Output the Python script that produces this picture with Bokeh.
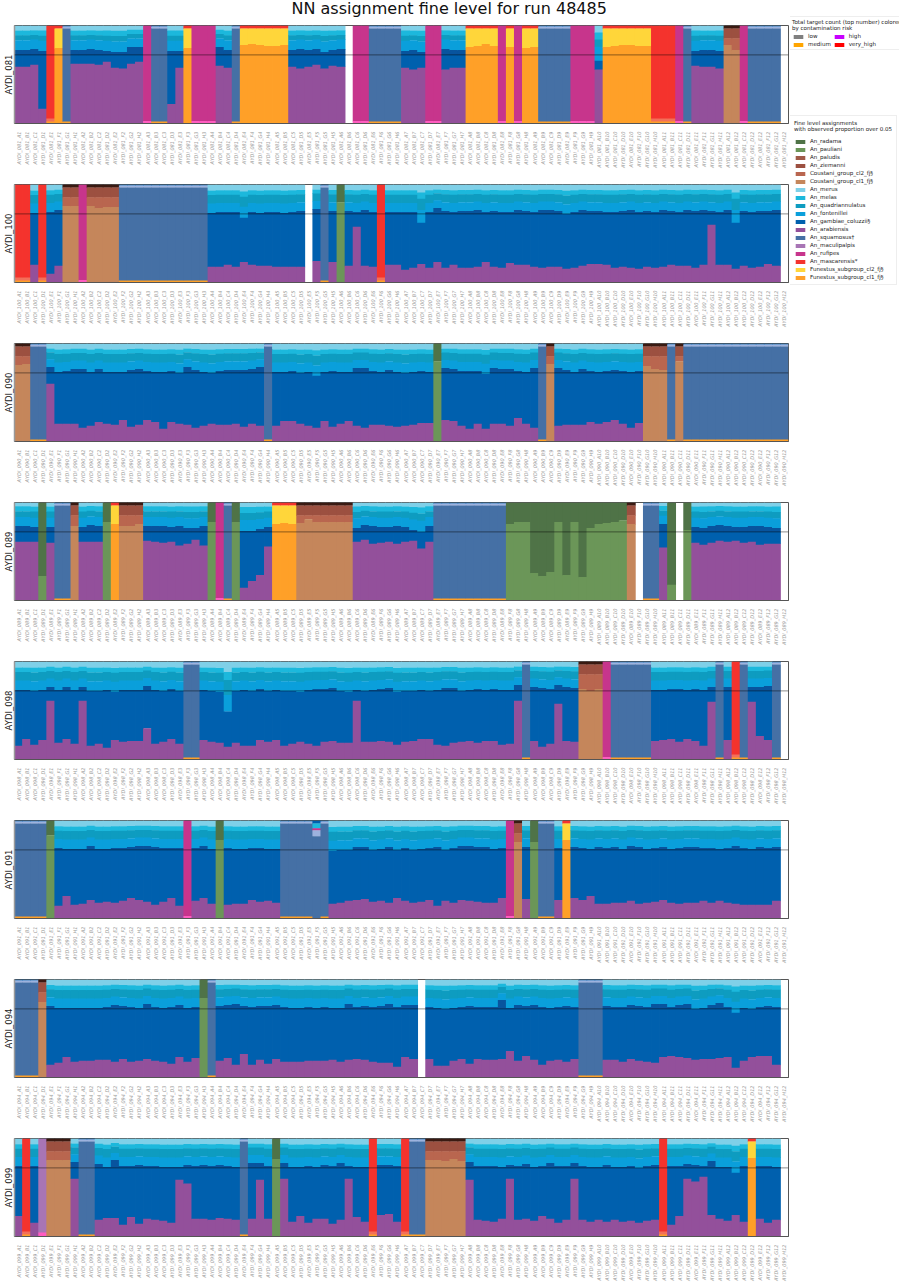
from bokeh.plotting import figure
from bokeh.models import (ColumnDataSource, FactorRange, Range1d, LabelSet, Span, Legend,
                          LegendItem, FixedTicker)
from bokeh.layouts import row, column
from bokeh.embed import file_html
from bokeh.resources import INLINE
from bokeh.core.properties import field, value
from math import pi

title_text = "NN assignment fine level for run 48485"
plate_rows = list("ABCDEFGH")
plate_cols = list(range(1, 13))

species_colors = {
    "An_radama": "#4F7347", "An_pauliani": "#6B9658", "An_paludis": "#A05A48", "An_ziemanni": "#9C5040",
    "Coustani_group_cl2_fj§": "#B9664F", "Coustani_group_cl1_fj§": "#C5865B", "An_merus": "#7FD0E8",
    "An_melas": "#1CB8DC", "An_quadriannulatus": "#0E9CC0", "An_fontenillei": "#0A9FDB",
    "An_gambiae_coluzzii§": "#0060AE", "An_arabiensis": "#93509B", "An_squamosus†": "#4570A5",
    "An_maculipalpis": "#A875B5", "An_rufipes": "#C7358C", "An_mascarensis*": "#F4332D",
    "Funestus_subgroup_cl2_fj§": "#FFD63A", "Funestus_subgroup_cl1_fj§": "#FFA028",
}
minor_colors = {"pink": "#FF5CC0", "pale": "#9DB2DE", "deep": "#3A1A12", "salmon": "#F2705A", "gdark": "#08549E"}
risk_names = ["low", "medium", "high", "very_high"]
risk_colors = ["#808080", "#FFA500", "#C800FF", "#FF0000"]

panel_ids = ["081", "100", "090", "089", "098", "091", "094", "099"]

# column codes: N normal gambiae-complex profile, F Funestus, C Coustani, P pauliani/radama,
# S squamosus, M rufipes, R mascarensis, L maculipalpis, T mixed, W empty
codes = {
 "081": "NNNN R F S NNNNNNNNN M SS NN F MMM NN S FFFFFF NNNNNNN W MM SSSS NNN MM NNN FFFF M F M FF SSSS MMM N FFFFFF RRR M S NNNN CC M SSSS W",
 "100": "RR N R NN CC M CCCC SSSSSSSSSSS NNNNNNNNNNNN W N S N P NNNN R NNNNNNNNNNNNNNNNNNNNNNNNNNNNNNNNNNNNNNNNNNNNNNNNN W",
 "090": "CC SS NNNNNNNNNNNNNNNNNNNNNNNNNNN S NNNNNNNNNNNNNNNNNNNN P NNNNNNNNNNNN S C NNNNNNNNNNN CCC S C SSSSSSSSSSSSS",
 "089": "NNN P N SS C NNN P F CCC NNNNNNNN P M S P NNNN FFF CCCCCCC NNNNNNNNNN SSSSSSSSS PPPPPPPPPPPPPPP C W SS N P W P NNNNNNNNNNN W",
 "098": "NNNNNNNNNNNNNNNNNNNNN SS NNNNNNNNNNNNNNNNNNNNNNNNNNNNNNNNNNNNNNNN S NNNNNN CCC M SSSSS NNNNNNNN S N R S NNN S W",
 "091": "SSSS P NNNNNNNNNNNNNNNN M NNN P NNNNNNN SSSSTS NNNNNNNNNNNNNNNNNNNNNN M C N P SS N F NNNNNNNNNNNNNNNNNNNNNNNNNN W",
 "094": "SSS C NNNNNNNNNNNNNNNNNNN P S NNNNNNNNNNNNNNNNNNNNNNNNN W NNNNNNNNNNNNNNNNNNN SSS NNNNNNNNNNNNNNNNNNNNNN W",
 "099": "N R N L CCC N SS NNNNNNNNNNNNNNNNNN S NNN P NNNNNNNNNNN R NNN R SS CCCCC NNNNNNNNNNNNNNNNNNNNNNNN R NNNNNNNNNN F NNN W",
}

# top of arabiensis (%), for N columns
arab = {
 "081": [58,58,60,15, 61,61,61,60,63,57,56,61,63, 20,57, 59,57, 58,56,58,60,56,59,58, 57,55,57, 55,57,57, 55, 59,58,58,56],
 "100": [18, 9,17, 16,16,18,16,21,18,17,17,16,16,16,16, 22, 21, 17,57,17,16,
         18,18,13,15,19,15,21,15,18,15,15,16,21,16,15,20,18,18,16,15,16,16,14,15,17,19,19,18,15,16,15,14,16,15,16,18,17,17,15,18, 59, 18,18,14,17,15,16,19,17],
 "090": [59, 18,18,18,14,16,20,18,17,22,15,17,22,20,13,20,18,17,14,16,18,17,17,18,15,18,16,
         16,21,21,18,16,14,21,15,18,21,16,14,17,17,16,15,16,17,19,19,
         22,21,16,13,18,13,18,18,16,24,18,14, 16,17,17,17,20,18,20,22,18,14,19],
 "089": [60,60,60, 59, 60,60,60, 61,60,59,60,56,58,62,56, 13,20,26,55, 60,62,58,59,60,58,60,61,53,60, 54, 59,57,59,61,60,61,59,60,57,58,58],
 "098": [14,21,15,20,60,17,21,16,60,14,16,12,20,18,19,19,32,16,18,21,16,
         20,18,17,13,17,14,14,20,18,20,14,16,18,16,14,18,19,17,17, 60, 18,18,19,18,15,18,19,21,21,15,14,17,18,19,17,19,19,15,16,60,
         19,13,16,57,19,18, 19,20,21,18,21,19,14,59, 20, 59,24,20],
 "091": [13,23,14,15,19,16,17,16,18,21,19,17,14,17,21,13, 18,21,15, 14,15,15,19,17,18,16,
         15,16,18,19,20,17,18,16,21,18,16,17,19,13,18,16,19,18,17,16,16,21, 20, 19,
         21,19,23,15,15,16,16,18,15,16,17,19,16,15,16,16,18,16,18,16,15,14,14,14,14,18],
 "094": [13,15,21,16,17,17,18,18,16,19,16,17,19,17,16,14,21,16,20,
         17,20,13,24,13,18,14,19,16,16,16,17,17,17,18,16,18,19,18,16,15,15,11,21,19,
         19,12,12,17,19,14,19,18,18,19,27,17,22,18,13,17,18,16,19,
         18,18,16,19,17,16,15,21,22,21,20,18,19,19,20,21,10,17,21,22,22,13],
 "099": [21, 14, 59, 17,19,19,12,20,13,18,17,16,14,58,54,18,18,17,19,18,17, 18,58,18,
         59,15,21,14,18,18,13,17,59,20,15, 22,23,15,
         58,17,16,15,18,59,17,18,16,21,18,14,17,59,17,15,17,15,17,15,16,14,16,17,
         12,21,59,56,61,22,18,16,22,15, 18,14,17],
}

# top of gambiae/coluzzii (%), for N columns
gamb = {
 "081": [75,75,76,74, 75,75,76,75,74,73,73,78,78, 74,74, 78,75, 75,76,75,76,73,75,76, 74,75,73, 76,75,75, 64, 74,75,75,74],
 "100": [71, 72,74, 71,72,72,72,66,72,71,72,72,71,72,73, 75, 73, 73,72,74,72,
         72,72,72,72,61,72,76,73,72,73,73,74,72,73,72,72,74,73,72,74,74,73,70,72,74,73,73,72,72,73,74,72,73,72,74,73,72,74,73,74, 73, 72,74,61,73,72,73,73,74],
 "090": [76, 71,72,74,74,71,74,71,71,71,73,74,72,71,71,72,70,76,73,71,70,72,73,73,73,74,76,
         71,71,72,70,71,67,71,72,71,71,75,75,72,71,73,71,70,71,72,71,
         75,74,72,72,72,69,75,74,74,72,71,75, 75,73,71,74,72,71,72,73,72,71,72],
 "089": [76,76,75, 75, 75,77,76, 76,76,76,75,76,74,74,76, 71,71,73,75, 74,77,76,75,75,76,75,72,70,76, 78, 75,74,76,77,76,75,75,76,76,75,74],
 "098": [71,71,70,71,74,71,74,71,74,70,70,71,69,71,71,71,75,71,70,72,70,
         71,70,69,49,70,71,70,72,70,71,70,70,69,71,72,72,73,70,69, 71, 70,71,72,73,69,70,70,71,70,71,73,73,70,71,72,71,72,71,71,76,
         74,73,72,76,74,73, 71,71,72,72,71,72,71,74, 74, 74,74,75],
 "091": [72,71,71,71,74,71,71,72,72,73,74,74,73,72,72,72, 72,74,71, 72,71,71,72,72,71,71,
         69,70,70,73,73,70,71,73,70,72,70,71,72,73,70,72,74,74,73,73,71,72, 73, 72,
         73,72,71,73,72,73,71,74,73,71,72,73,71,72,73,73,72,72,71,72,74,72,71,73,72,73],
 "094": [73,71,71,71,71,71,71,72,74,73,72,71,75,72,71,72,74,71,72,
         73,74,75,73,72,73,73,74,72,71,71,72,71,72,71,71,75,72,73,72,73,75,72,74,74,
         72,71,70,71,72,73,72,72,72,79,71,74,73,74,72,71,72,73,72,
         73,72,72,74,73,72,75,75,72,74,75,70,71,74,76,72,66,71,70,72,73,72],
 "099": [72, 72, 76, 74,71,78,72,72,73,72,72,71,71,71,73,72,73,72,73,72,71, 75,75,72,
         75,71,71,72,71,73,72,75,72,71,71, 73,73,72,
         76,72,72,72,71,73,72,74,71,72,75,72,72,75,72,71,71,73,71,71,72,70,72,73,
         72,72,74,73,72,77,71,71,65,72, 72,72,71],
}

# top of the main layer (%), for F, C and P columns
main = {
 "081": [77,77, 80,81,80,79,79,80, 78,79,81,79, 78, 77,78, 78,79,80,80,79,79, 80,75],
 "100": [78,78, 78,76,77,77, 82],
 "090": [78,79, 82, 79, 77,74,73, 82],
 "089": [25, 76, 80, 78, 76,76,78, 80, 80, 78,79,78, 79,83,80,80,80,80,80,
         78,80,80,28,25,29,80,26,80,24,74,78,79,80,82, 78, 16, 72],
 "098": [72,70,72],
 "091": [85, 80, 78, 78, 80],
 "094": [77, 81],
 "099": [78,78,78, 79, 78,78,77,79,77, 80],
}

# share of the part above gambiae taken by fontenillei, quadriannulatus, melas, merus
upper_share = {
 "081": [.40,.20,.20,.20], "100": [.33,.30,.16,.21], "090": [.33,.30,.16,.21], "089": [.38,.25,.21,.16],
 "098": [.33,.30,.16,.21], "091": [.33,.30,.16,.21], "094": [.33,.30,.16,.21], "099": [.33,.30,.16,.21],
}

counts = {
 "081": [59,59,59,59,49,59,49,58,58,58,59,59,58,57,59,60,58,51,50,59,59,59,60,57,58,58,59,53,60,58,59,58,60,58,59,59,
         59,60,59,59,60,7,56,57,54,51,50,59,58,59,37,57,60,57,58,57,61,60,59,34,55,59,36,59,52,54,57,58,57,59,59,60,59,
         59,60,59,59,57,58,53,54,52,58,52,59,59,57,58,49,41,56,52,50,50,52,0],
 "100": [48,50,53,49,55,58,41,41,56,48,44,42,40,52,49,56,56,54,49,49,51,50,53,49,59,60,59,52,57,58,58,56,59,60,59,58,
         5,59,47,60,47,60,58,60,60,49,58,58,58,59,18,59,60,58,59,54,59,60,59,37,59,59,59,58,59,56,59,59,52,55,57,59,60,
         58,57,59,61,46,58,60,59,59,59,60,56,58,57,60,58,17,60,57,54,57,57,0],
 "090": [45,47,52,49,58,52,55,55,55,56,58,58,57,59,59,58,58,57,54,57,61,59,58,59,61,59,58,51,60,59,58,52,
         58,60,59,60,58,56,59,59,57,59,58,59,59,58,60,58,60,59,30,56,46,
         49,58,60,56,57,59,58,59,57,59,60,59,51,46,58,59,60,57,60,59,58,58,59,59,58,47,48,48,50,39,
         44,47,46,49,51,51,17,48,50,53,55,47,38],
 "089": [58,59,58,43,56,50,41,42,57,56,55,47,38,46,41,41,58,59,59,57,59,57,58,56,47,57,50,46,57,58,59,59,38,57,59,40,35,43,43,45,50,46,
         59,58,58,59,59,59,59,45,57,48,48,53,53,51,50,50,47,51,49,
         43,44,46,45,45,41,45,37,45,27,46,44,36,42,43,43,4,49,46,56,48,9,11,59,53,58,59,58,46,58,43,58,59,57,0],
 "098": [45,57,56,57,58,58,51,53,55,54,56,58,37,59,58,59,59,60,58,56,47,50,51,59,59,58,21,57,60,58,
         59,58,60,55,55,56,57,58,58,57,58,59,58,59,59,58,60,59,57,47,58,59,59,57,56,58,60,59,60,59,
         59,60,60,52,59,58,61,59,61,58,45,47,46,55,52,51,53,50,47,58,60,59,56,59,60,58,59,51,55,26,53,59,57,58,51,0],
 "091": [47,51,43,47,35, 59,49,58,59,59,59,58,59,56,57,57,59,58,58,60,59, 54, 59,59,60, 50, 59,38,58,59,60,48,52,
         52,42,46,49,19,51, 56, 59,59,59,59,54,50,59,54,59,56,39,59,59,59,59,59,57,27,58,59,59,
         36,47,59,38,53,53,59,54, 58,59,60,60,60,55,55,58,59,55,58,59,58,59,57,58,55,58,59,58,49,44,60,59,59,61, 0],
 "094": [55,54,48,42, 54,57,57,60,59,59,59,57,59,59,59,56,59,60,59,57,60,57,59, 47, 51,
         59,56,58,57,58,60,56,60,58,60,57,59,61,50,59,56,60,47,58,60,60,59,60,59,60, 7,
         59,59,60,59,55,60,53,59,59,29,59,58,59,56,56,61,59,59,59, 52,46,47,
         55,57,60,56,59,56,59,60,56,58,60,58,57,58,59,57,47,62,57,59,48,46, 0],
 "099": [56,47,56,52,43,46,37,39,55,51, 55,57,49,59,57,55,59,60,57,57,59,57,59,59,56,60,59,58, 51,39,59,61,49,
         59,59,41,59,57,59,58,55,51,56,56, 52, 56,49,57, 53, 36,43, 46,46,46,49,46,
         59,59,61,59,58,61,57,60,59,58,59,58,58,59,55,60,59,54,60,58,56,57,59,58, 53,
         55,58,59,59,60,60,59,59,34,59,56,56,60,57, 0],
}

# wells whose count is labelled as medium contamination risk
medium_wells = {
 "081": [29,30,50,74,88,89,95], "100": [9,10,11,12,34,36,50,89,95], "090": [1,50,66,79,80,89,95],
 "089": [12,14,15,36,37,38,40,41,58,76,77,82,83,95], "098": [12,26,70,71,72,79,89,95],
 "091": [27,37,39,50,57,58,84,91,95], "094": [3,36,50,56,75,95], "099": [4,5,24,25,29,51,53,55,89,95],
}

legend1_title = "Total target count (top number) colored\nby contamination risk"
legend2_title = "Fine level assignments\nwith observed proportion over 0.05"

SP = list(species_colors)
radama, pauliani, paludis, ziemanni, c_cl2, c_cl1, merus, melas, quadri, fonten, gambiae, arabi, squam, macul, rufip, masc, f_cl2, f_cl1 = SP

FONT = "DejaVu Sans"

problems = []
for pid in panel_ids:
    seq = codes[pid].replace(" ", "")
    got = (len(seq), len(counts[pid]), sum(c == "N" for c in seq), len(arab[pid]), len(gamb[pid]),
           sum(c in "FCP" for c in seq), len(main[pid]))
    if got[0] != 96 or got[1] != 96 or got[2] != got[3] or got[2] != got[4] or got[5] != got[6]:
        problems.append((pid, got))
assert not problems, problems


def column_layers(code, a, b, m, share):
    if code == "N":
        rest = 100 - b
        t1 = b + rest * share[0]
        t2 = t1 + rest * share[1]
        t3 = t2 + rest * share[2]
        low = [(arabi, a), (gambiae, min(b, 70))]
        if b > 70:
            low.append(("gdark", b))
        return low + [(fonten, t1), (quadri, t2), (melas, t3), (merus, 100)]
    if code == "F":
        return [(f_cl1, m), (f_cl2, 97), (masc, 100)]
    if code == "C":
        return [(c_cl1, m), (c_cl2, 87), (ziemanni, 97), ("deep", 100)]
    if code == "P":
        return [(pauliani, m), (radama, 100)]
    if code == "S":
        return [(f_cl1, 2), (squam, 97), ("pale", 99), (gambiae, 100)]
    if code == "M":
        return [("pink", 2.5), (rufip, 100)]
    if code == "R":
        return [(f_cl1, 2), ("salmon", 5), (masc, 100)]
    if code == "L":
        return [("pink", 4), (macul, 100)]
    if code == "T":
        return [(squam, 84), ("pale", 90), (rufip, 92), (melas, 97), (gambiae, 100)]
    return []


def panel(pid, top_border, first):
    wells = [f"AYDI_{pid}_{r}{c}" for c in plate_cols for r in plate_rows]
    code_seq = codes[pid].replace(" ", "")
    ita, itb, itm = iter(arab[pid]), iter(gamb[pid]), iter(main[pid])
    xs, bottoms, tops, colors = [], [], [], []
    for well, code in zip(wells, code_seq):
        a = next(ita) if code == "N" else 0
        b = next(itb) if code == "N" else 0
        m = next(itm) if code in "FCP" else 0
        layers = column_layers(code, a, b, m, upper_share[pid])
        lower = [0] + [t for _, t in layers[:-1]]
        # painted from the top layer down; each layer reaches just under the next to hide seams
        for (name, top), low in reversed(list(zip(layers, lower))):
            xs.append(well)
            bottoms.append(max(low - 0.4, 0) / 100)
            tops.append(top / 100)
            colors.append(species_colors.get(name, minor_colors.get(name)))
    p = figure(x_range=FactorRange(factors=wells, range_padding=0), y_range=Range1d(0, 1),
               frame_width=774, frame_height=98, width=790, height=top_border + 98 + 48,
               output_backend="svg", toolbar_location=None,
               min_border_left=14, min_border_right=2, min_border_top=top_border, min_border_bottom=48)
    p.vbar(x=xs, bottom=bottoms, top=tops, width=1.1, fill_color=colors, line_color=None)
    p.grid.visible = False
    p.outline_line_color = "#555555"
    p.outline_line_width = 1
    p.background_fill_color = "white"

    ax = p.xaxis[0]
    ax.major_label_orientation = pi / 2
    ax.major_label_text_font = FONT
    ax.major_label_text_font_size = "5px"
    ax.major_label_text_font_style = "italic"
    ax.major_label_text_color = "#999999"
    ax.major_label_standoff = 2
    ax.major_tick_line_color = None
    ax.minor_tick_line_color = None
    ax.axis_line_color = "#555555"

    ay = p.yaxis[0]
    ay.ticker = FixedTicker(ticks=[])
    ay.axis_label = f"AYDI_{pid}"
    ay.axis_label_text_font_size = "8.5px"
    ay.axis_label_text_font_style = "normal"
    ay.axis_label_text_font = FONT
    ay.axis_label_text_color = "#222222"
    ay.axis_label_standoff = 1
    ay.axis_line_color = "#999999"
    ay.axis_line_width = 1.5

    p.add_layout(Span(location=0.7, dimension="width", line_color="black", line_alpha=0.45, line_width=1))

    src = ColumnDataSource(dict(
        x=wells, y=[1.0] * 96, t=[str(v) for v in counts[pid]],
        c=[risk_colors[1] if i in medium_wells[pid] else "#AAAAAA" for i in range(96)]))
    p.add_layout(LabelSet(x="x", y="y", text="t", source=src, angle=pi / 2, y_offset=2,
                          text_font=value(FONT), text_font_size="5px", text_color=field("c"), text_align="left",
                          text_baseline="middle"))
    if first:
        p.title.text = title_text
        p.title.align = "left"
        p.title.offset = 277
        p.title.standoff = 15
        p.title.text_line_height = 1.0
        p.title.text_font = FONT
        p.title.text_font_size = "16px"
        p.title.text_font_style = "normal"
        p.title.text_color = "#111111"
        p.margin = (-11, 0, 0, 0)
    return p


def legend_fig():
    p = figure(width=109, height=290, x_range=Range1d(0, 1), y_range=Range1d(0, 1),
               output_backend="svg", toolbar_location=None, min_border=0,
               min_border_left=0, min_border_right=0, min_border_top=0, min_border_bottom=0,
               outline_line_color=None)
    p.axis.visible = False
    p.grid.visible = False
    items1 = [LegendItem(label=n, renderers=[p.vbar(x=[float("nan")], top=[float("nan")], width=1, fill_color=c, line_color=None)])
              for n, c in zip(risk_names, risk_colors)]
    items2 = [LegendItem(label=n, renderers=[p.vbar(x=[float("nan")], top=[float("nan")], width=1, fill_color=c, line_color=None)])
              for n, c in species_colors.items()]
    for items, title, loc, ncols, pad, stand in ((items1, legend1_title, (-1, 240), 2, 2, 2),
                                                 (items2, legend2_title, (-1, 5), 1, 4, 6)):
        lg = Legend(items=items, title=title, location=loc, ncols=ncols,
                    label_text_font=FONT, title_text_font=FONT,
                    label_text_font_size="5.55px", title_text_font_size="5.55px", title_text_font_style="normal",
                    glyph_width=12, glyph_height=5, label_height=5, spacing=2, padding=pad, margin=0,
                    label_standoff=4, title_standoff=stand, border_line_color="#DDDDDD",
                    label_text_color="#222222", title_text_color="#222222")
        p.add_layout(lg)
    return p


panels = [panel(pid, 34 if i == 0 else 13, i == 0) for i, pid in enumerate(panel_ids)]
root = row(column(*panels, spacing=0), legend_fig(), spacing=0)
open("out.html", "w").write(file_html(root, INLINE))
